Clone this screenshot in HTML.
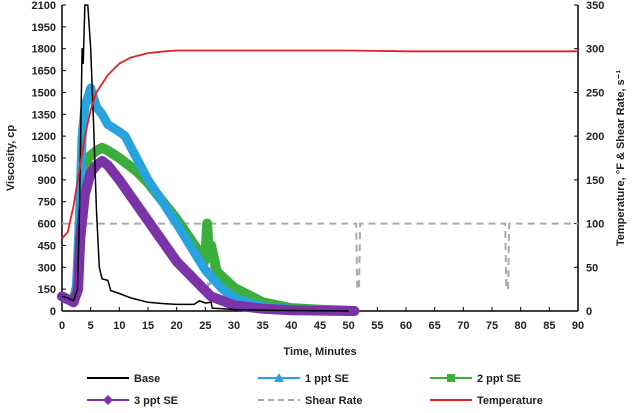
<!DOCTYPE html>
<html><head><meta charset="utf-8"><style>
body{margin:0;background:#fff;}
svg text{font-family:"Liberation Sans",sans-serif;font-weight:bold;fill:#222;}
</style></head><body>
<svg id="c" width="633" height="408" viewBox="0 0 633 408"></svg>
<script>
const xTicks=[0,5,10,15,20,25,30,35,40,45,50,55,60,65,70,75,80,85,90];
const yTicks=[0,150,300,450,600,750,900,1050,1200,1350,1500,1650,1800,1950,2100];
const y2Ticks=[0,50,100,150,200,250,300,350];
const baseT=[0,1,2,2.7,3,3.3,3.5,3.7,4,4.5,5,5.5,6,6.5,7,8,8.5,10,12,15,18,20,23,24,25,26,26.2,30,35,50];
const baseV=[100,90,70,150,600,1300,1800,1700,2100,2100,1800,1300,700,300,220,210,140,120,90,60,50,45,45,70,55,60,20,10,5,0];
const p1T=[0,1,2,2.5,3,3.5,4,5,6,7,8,10,11,13,15,20,25,28,30,35,40,45,51];
const p1V=[100,80,70,150,600,1200,1400,1530,1400,1350,1280,1230,1200,1050,900,600,280,150,90,30,10,5,0];
const p2T=[0,1,2,2.8,3.5,4.5,6,7,8,10,13,15,20,24,25,25.3,25.6,26,27,30,35,40,45,51];
const p2V=[100,80,70,200,800,1050,1100,1120,1100,1050,960,880,630,400,350,600,400,450,270,160,60,20,8,0];
const p3T=[0,1,2,2.8,3.2,4,5,6,7,8,10,15,20,25,26,30,35,40,51];
const p3V=[100,80,60,150,500,800,950,1000,1030,1000,900,620,340,140,100,40,15,5,0];
const tempT=[0,1,2,3,4,5,6,8,10,12,15,18,20,25,30,50,60,90];
const tempV=[83,90,120,160,200,230,250,270,283,290,295,297,298,298,298,298,297,297];
const shearT=[0,25.3,25.5,25.8,26,51.3,51.5,51.8,52,77.3,77.5,77.8,78,90];
const shearV=[100,100,25,25,100,100,25,25,100,100,25,25,100,100];

const X0=62,X1=578,Y0=311,Y1=5;
const sx=t=>X0+(X1-X0)*t/90;
const sy=v=>Y0-(Y0-Y1)*v/2100;
const sy2=v=>Y0-(Y0-Y1)*v/350;
const svg=document.getElementById('c');
const NS='http://www.w3.org/2000/svg';
function mk(tag,attrs,parent){const e=document.createElementNS(NS,tag);for(const k in attrs)e.setAttribute(k,attrs[k]);(parent||svg).appendChild(e);return e;}
function txt(x,y,s,anchor,size,parent){const e=mk('text',{x:x,y:y,'text-anchor':anchor,'font-size':size},parent);e.textContent=s;return e;}
function pts(T,V,f){return T.map((t,i)=>sx(t).toFixed(1)+','+f(V[i]).toFixed(1)).join(' ');}

const ax=mk('g',{});


mk('line',{x1:X0,y1:Y1,x2:X0,y2:Y0,stroke:'#000','stroke-width':1.5},ax);
mk('line',{x1:X1,y1:Y1,x2:X1,y2:Y0,stroke:'#000','stroke-width':1.5},ax);
mk('line',{x1:X0,y1:Y0,x2:X1,y2:Y0,stroke:'#000','stroke-width':1.5},ax);
xTicks.forEach(t=>{mk('line',{x1:sx(t),y1:Y0,x2:sx(t),y2:Y0-4,stroke:'#000'},ax);const e=txt(sx(t),329,String(t),'middle',11,ax);});
yTicks.forEach(v=>{mk('line',{x1:X0,y1:sy(v),x2:X0+4,y2:sy(v),stroke:'#000'},ax);const e=txt(X0-6,sy(v)+4,String(v),'end',11,ax);});
y2Ticks.forEach(v=>{mk('line',{x1:X1,y1:sy2(v),x2:X1-4,y2:sy2(v),stroke:'#000'},ax);const e=txt(X1+8,sy2(v)+4,String(v),'start',11,ax);});
let t1=txt(0,0,'Viscosity, cp','middle',11);t1.setAttribute('transform','translate(14,158) rotate(-90)');

let t2=txt(0,0,'Temperature, °F & Shear Rate, s⁻¹','middle',11);t2.setAttribute('transform','translate(624,158) rotate(-90)');

let t3=txt(320,355,'Time, Minutes','middle',11);


let s;
s=mk('polyline',{points:pts(shearT,shearV,sy2),fill:'none',stroke:'#aaa','stroke-width':2,'stroke-dasharray':'7,5'});

s=mk('polyline',{points:pts(p2T,p2V,sy),fill:'none',stroke:'#3cae3c','stroke-width':10,'stroke-linejoin':'round','stroke-linecap':'round'});

s=mk('polyline',{points:pts(p1T,p1V,sy),fill:'none',stroke:'#29a3dd','stroke-width':9,'stroke-linejoin':'round','stroke-linecap':'round'});

s=mk('polyline',{points:pts(p3T,p3V,sy),fill:'none',stroke:'#7b33a8','stroke-width':10,'stroke-linejoin':'round','stroke-linecap':'round'});

s=mk('polyline',{points:pts(baseT,baseV,sy),fill:'none',stroke:'#000','stroke-width':1.5,'stroke-linejoin':'round'});

s=mk('polyline',{points:pts(tempT,tempV,sy2),fill:'none',stroke:'#e8231f','stroke-width':1.8,'stroke-linejoin':'round'});


const lg=mk('g',{});

function entry(x,y,label,color,marker,dash,name){
  const g=mk('g',{},lg);
  
  mk('line',{x1:x,y1:y,x2:x+42,y2:y,stroke:color,'stroke-width':2,'stroke-dasharray':dash||'none'},g);
  const cx=x+21;
  if(marker==='tri')mk('polygon',{points:`${cx-5},${y+4} ${cx+5},${y+4} ${cx},${y-5}`,fill:color},g);
  if(marker==='sq')mk('rect',{x:cx-4,y:y-4,width:8,height:8,fill:color},g);
  if(marker==='dia')mk('polygon',{points:`${cx},${y-5} ${cx+5},${y} ${cx},${y+5} ${cx-5},${y}`,fill:color},g);
  txt(x+47,y+4,label,'start',11,g);
}
entry(87,378,'Base','#000',null,null,'legend-base');
entry(258,378,'1 ppt SE','#29a3dd','tri',null,'legend-1ppt');
entry(430,378,'2 ppt SE','#3cae3c','sq',null,'legend-2ppt');
entry(87,400,'3 ppt SE','#7b33a8','dia',null,'legend-3ppt');
entry(258,400,'Shear Rate','#aaa',null,'6,4','legend-shear-rate');
entry(430,400,'Temperature','#e8231f',null,null,'legend-temperature');
</script>
</body></html>
